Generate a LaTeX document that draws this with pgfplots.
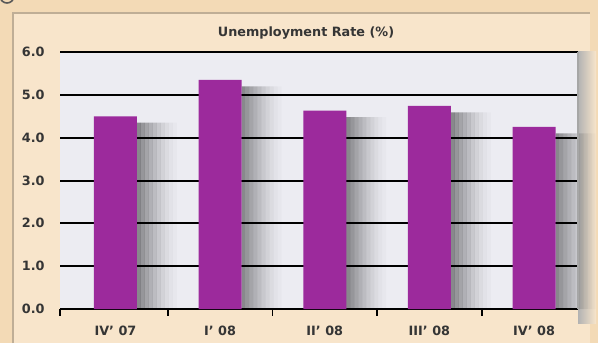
\documentclass[border=0pt]{standalone}
\usepackage{pgfplots}
\usepackage{pgfplotstable}
\pgfplotsset{compat=1.18}
\usepackage{fontspec}
\setmainfont{DejaVu Sans}
\definecolor{outerbg}{HTML}{F3DAB6}
\definecolor{panelbg}{HTML}{F8E5CB}
\definecolor{plotbg}{HTML}{ECECF2}
\definecolor{barcol}{HTML}{9C2A9C}
\definecolor{txt}{HTML}{353535}
\definecolor{frame}{HTML}{BFAE96}
\pgfplotstableread{
x y
0 4.50
1 5.35
2 4.63
3 4.74
4 4.25
}\unemp
\begin{document}
\begin{tikzpicture}[x=0.75pt,y=0.75pt]
\useasboundingbox (0,0) rectangle (598,343);
\fill[outerbg] (0,0) rectangle (598,343);
\fill[panelbg] (13,0) rectangle (590,330);
\fill[left color=gray!60, right color=panelbg] (578,20) rectangle (596,291);
\draw[frame, line width=1.5] (13,0) -- (13,330) -- (590,330);
\draw[gray!70!black, line width=1.2] (7,347) circle (7);
\begin{axis}[
  at={(45pt,25.5pt)}, anchor=south west,
  scale only axis, width=388.5pt, height=192.75pt,
  xmin=-0.53, xmax=4.42, ymin=0, ymax=6,
  axis background/.style={fill=plotbg},
  axis line style={draw=none},
  ytick={0,1,2,3,4,5,6},
  /pgf/number format/assume math mode=true,
  yticklabel={\pgfmathprintnumber[fixed,fixed zerofill,precision=1]{\tick}},
  yticklabel style={font=\fontsize{9.6}{11}\selectfont\bfseries, text=txt, xshift=-3pt},
  ytick style={draw=none},
  xtick={-0.53,0.5,1.5,2.5,3.5},
  xticklabels={},
  xtick pos=bottom,
  tick align=outside,
  major tick length=5pt,
  x tick style={draw=black, line width=1.2pt},
  extra x ticks={0,1,2,3,4},
  extra x tick labels={IV' 07, I' 08, II' 08, III' 08, IV' 08},
  extra x tick style={major tick length=0pt, tick style={draw=none},
     xticklabel style={font=\fontsize{9.6}{11}\selectfont\bfseries, text=txt, yshift=-9pt}},
  clip=false,
  ybar, bar width=3pt,
]
% soft shadows to the right of the bars
\addplot[draw=none, fill=black, fill opacity=0.42, bar shift=17.6pt, forget plot] table[y expr=\thisrow{y}-0.15] {\unemp};
\addplot[draw=none, fill=black, fill opacity=0.36, bar shift=20.6pt, forget plot] table[y expr=\thisrow{y}-0.15] {\unemp};
\addplot[draw=none, fill=black, fill opacity=0.30, bar shift=23.6pt, forget plot] table[y expr=\thisrow{y}-0.15] {\unemp};
\addplot[draw=none, fill=black, fill opacity=0.25, bar shift=26.6pt, forget plot] table[y expr=\thisrow{y}-0.15] {\unemp};
\addplot[draw=none, fill=black, fill opacity=0.20, bar shift=29.6pt, forget plot] table[y expr=\thisrow{y}-0.15] {\unemp};
\addplot[draw=none, fill=black, fill opacity=0.15, bar shift=32.6pt, forget plot] table[y expr=\thisrow{y}-0.15] {\unemp};
\addplot[draw=none, fill=black, fill opacity=0.11, bar shift=35.6pt, forget plot] table[y expr=\thisrow{y}-0.15] {\unemp};
\addplot[draw=none, fill=black, fill opacity=0.07, bar shift=38.6pt, forget plot] table[y expr=\thisrow{y}-0.15] {\unemp};
\addplot[draw=none, fill=black, fill opacity=0.04, bar shift=41.6pt, forget plot] table[y expr=\thisrow{y}-0.15] {\unemp};
\addplot[draw=none, fill=black, fill opacity=0.02, bar shift=44.6pt, forget plot] table[y expr=\thisrow{y}-0.15] {\unemp};
% grid lines
\addplot[sharp plot, black, line width=1.5pt, forget plot] coordinates {(-0.53,0) (4.42,0)};
\addplot[sharp plot, black, line width=1.5pt, forget plot] coordinates {(-0.53,1) (4.42,1)};
\addplot[sharp plot, black, line width=1.5pt, forget plot] coordinates {(-0.53,2) (4.42,2)};
\addplot[sharp plot, black, line width=1.5pt, forget plot] coordinates {(-0.53,3) (4.42,3)};
\addplot[sharp plot, black, line width=1.5pt, forget plot] coordinates {(-0.53,4) (4.42,4)};
\addplot[sharp plot, black, line width=1.5pt, forget plot] coordinates {(-0.53,5) (4.42,5)};
\addplot[sharp plot, black, line width=1.5pt, forget plot] coordinates {(-0.53,6) (4.42,6)};
% bars
\addplot[draw=none, fill=barcol, bar width=32.25pt, bar shift=0pt] table {\unemp};
\end{axis}
\draw[gray!70, line width=0.8] (578,34) -- (578,291);
\node[font=\fontsize{9.6}{11}\selectfont\bfseries, text=txt] at (306,310) {Unemployment Rate (\%)};
\end{tikzpicture}
\end{document}
